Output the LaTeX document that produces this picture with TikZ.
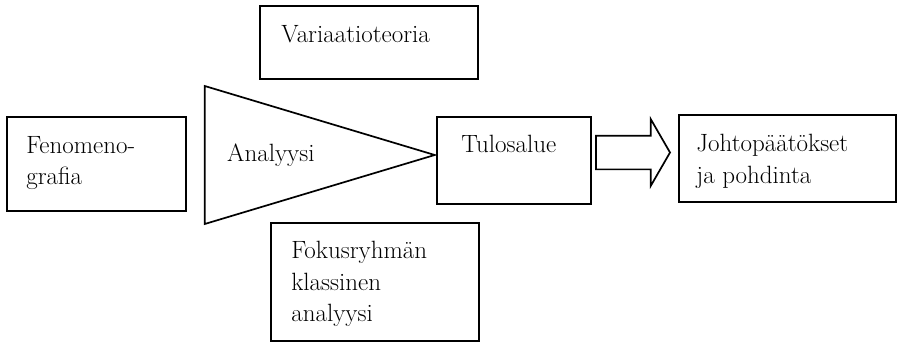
\documentclass[tikz,border=0pt]{standalone}
\usepackage{fontspec}
\usepackage{tikz}
\usetikzlibrary{shapes.geometric, shapes.arrows, positioning, calc}

\begin{document}
\begin{tikzpicture}[
    x=1pt, y=-1pt,
    font=\fontsize{25}{31.5}\selectfont,
    box/.style={draw, line width=1.7pt, inner sep=0pt},
    teksti/.style={anchor=north west, align=left, inner sep=0pt},
    kiila/.style={draw, line width=1.7pt, isosceles triangle, isosceles triangle stretches, inner sep=0pt},
    nuoli/.style={draw, line width=1.7pt, single arrow, inner xsep=0pt, inner ysep=16pt}
]
    \useasboundingbox (0,0) rectangle (898,343);
    % laatikot
    \node[box, minimum width=179pt, minimum height=94pt] (feno) at (96.5,164) {};
    \node[box, minimum width=218pt, minimum height=73pt] (varia) at (369,42.5) {};
    \node[box, minimum width=208pt, minimum height=118pt] (fokus) at (375,282) {};
    \node[box, minimum width=154pt, minimum height=87pt] (tulos) at (514,160.5) {};
    \node[box, minimum width=217pt, minimum height=87pt] (johto) at (787.5,158.5) {};
    \node[kiila, minimum width=138pt, minimum height=230pt, anchor=apex] (analyysi) at (437,155) {};
    \node[nuoli, minimum height=74pt, single arrow head extend=16.5pt, single arrow tip angle=120, anchor=tip] (siirto) at (671,152.5) {};
    % tekstit
    \node[teksti] (fenoteksti) at ([shift={(20,20)}]feno.north west) {Fenomeno-\\grafia};
    \node[teksti] (variateksti) at ([shift={(22,20)}]varia.north west) {Variaatioteoria};
    \node[teksti] (analyysiteksti) at (227,144) {Analyysi};
    \node[teksti] (fokusteksti) at ([shift={(21,19)}]fokus.north west) {Fokusryhmän\\klassinen\\analyysi};
    \node[teksti] (tulosteksti) at ([shift={(25,19)}]tulos.north west) {Tulosalue};
    \node[teksti] (johtoteksti) at ([shift={(18,20)}]johto.north west) {Johtopäätökset\\ja pohdinta};
\end{tikzpicture}
\end{document}
